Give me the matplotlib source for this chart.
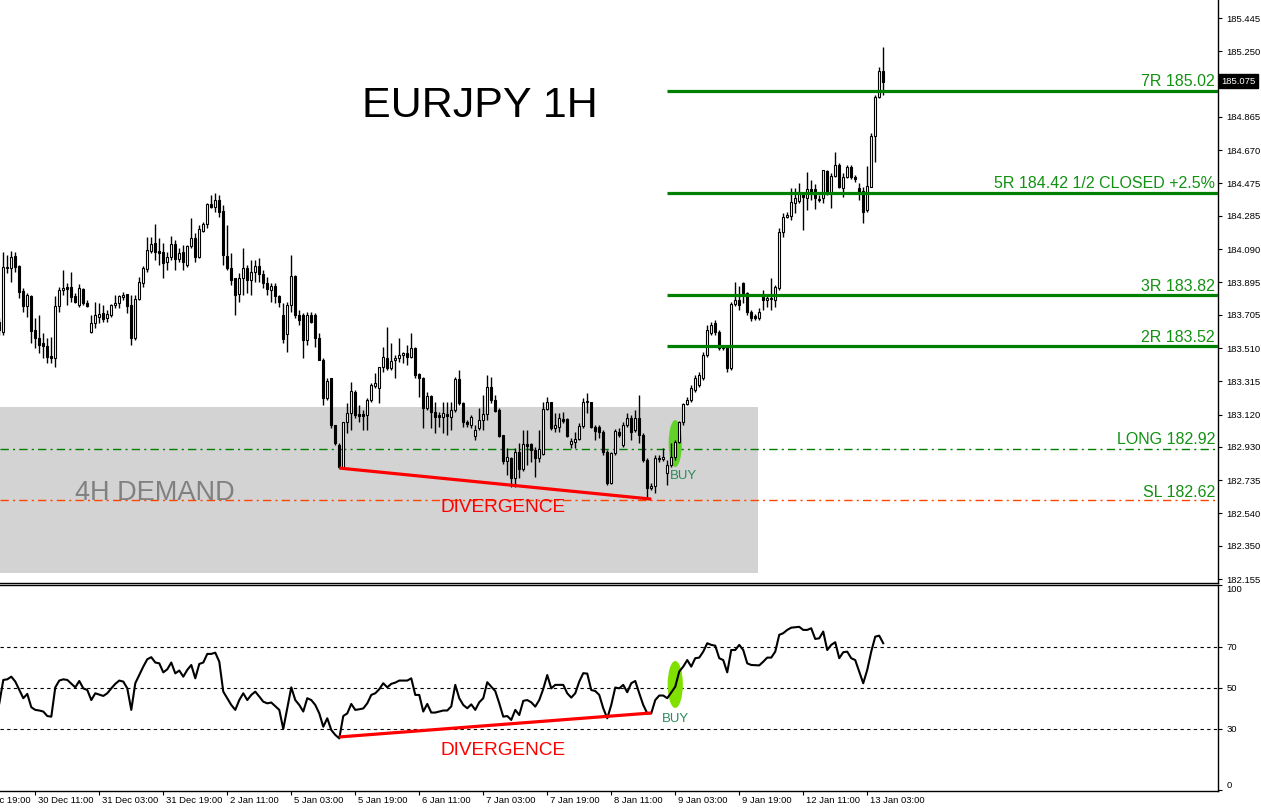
import numpy as np
import matplotlib.pyplot as plt
import matplotlib.transforms as mtransforms
from matplotlib.patches import Rectangle, Ellipse

# EURJPY H1 candles, bar 0 is the half cut one on the left edge
opens = [
    183.662, 183.604, 183.979, 183.979, 184.050, 183.991, 183.844, 183.756, 183.815, 183.616,
    183.569, 183.539, 183.522, 183.463, 183.451, 183.756, 183.850, 183.868, 183.868, 183.815,
    183.762, 183.856, 183.774, 183.604, 183.657, 183.692, 183.715, 183.686, 183.704, 183.762,
    183.774, 183.809, 183.827, 183.762, 183.569, 183.797, 183.891, 183.973, 184.079, 184.126,
    184.079, 184.073, 184.015, 184.044, 184.120, 184.032, 184.073, 183.997, 184.108, 184.155,
    184.044, 184.196, 184.237, 184.354, 184.337, 184.378, 184.314, 184.050, 183.979, 183.921,
    183.827, 183.921, 183.979, 183.909, 183.956, 183.991, 183.944, 183.891, 183.850, 183.874,
    183.815, 183.704, 183.592, 183.762, 183.932, 183.704, 183.704, 183.557, 183.704, 183.704,
    183.569, 183.440, 183.217, 183.334, 183.058, 182.941, 182.812, 183.076, 183.129, 183.252,
    183.123, 183.123, 183.117, 183.205, 183.287, 183.275, 183.399, 183.451, 183.393, 183.440,
    183.451, 183.469, 183.481, 183.457, 183.510, 183.358, 183.334, 183.158, 183.229, 183.135,
    183.117, 183.105, 183.123, 183.105, 183.146, 183.328, 183.187, 183.076, 183.058, 182.994,
    183.041, 183.088, 183.123, 183.281, 183.205, 183.146, 183.000, 182.847, 182.865, 182.748,
    182.900, 182.800, 182.947, 182.947, 182.912, 182.865, 182.888, 183.152, 183.193, 183.041,
    183.047, 183.094, 183.094, 182.947, 182.959, 182.976, 183.052, 183.193, 183.193, 183.047,
    183.047, 183.018, 182.900, 182.718, 182.894, 183.018, 182.941, 183.058, 183.100, 183.029,
    183.100, 183.000, 182.853, 182.689, 182.701, 182.865, 182.859, 182.777, 182.824, 182.871,
    182.959, 183.076, 183.182, 183.205, 183.264, 183.293, 183.334, 183.469, 183.598, 183.657,
    183.604, 183.510, 183.516, 183.393, 183.768, 183.792, 183.891, 183.832, 183.721, 183.698,
    183.686, 183.809, 183.792, 183.797, 183.792, 183.862, 184.190, 184.278, 184.284, 184.360,
    184.372, 184.419, 184.390, 184.443, 184.443, 184.384, 184.390, 184.548, 184.419, 184.519,
    184.583, 184.448, 184.513, 184.572, 184.513, 184.448, 184.431, 184.319, 184.454, 184.753,
    184.982, 185.135]
highs = [
    183.686, 184.073, 184.055, 184.079, 184.073, 183.997, 183.862, 183.832, 183.821, 183.686,
    183.704, 183.598, 183.569, 183.575, 183.815, 183.868, 183.967, 183.891, 183.956, 183.832,
    183.885, 183.862, 183.792, 183.704, 183.780, 183.774, 183.762, 183.733, 183.768, 183.821,
    183.821, 183.838, 183.827, 183.821, 183.821, 183.926, 183.991, 184.161, 184.161, 184.237,
    184.155, 184.126, 184.073, 184.167, 184.143, 184.096, 184.114, 184.114, 184.272, 184.184,
    184.231, 184.249, 184.360, 184.407, 184.419, 184.407, 184.349, 184.231, 184.067, 183.921,
    183.950, 184.096, 183.997, 184.026, 184.026, 184.038, 183.967, 183.926, 183.891, 183.891,
    183.821, 183.774, 183.780, 184.055, 183.938, 183.733, 183.715, 183.721, 183.721, 183.715,
    183.598, 183.451, 183.334, 183.334, 183.058, 182.953, 183.076, 183.187, 183.311, 183.264,
    183.176, 183.146, 183.217, 183.305, 183.363, 183.399, 183.516, 183.633, 183.539, 183.469,
    183.569, 183.487, 183.528, 183.598, 183.516, 183.363, 183.340, 183.252, 183.234, 183.193,
    183.135, 183.193, 183.193, 183.193, 183.340, 183.381, 183.193, 183.088, 183.117, 183.058,
    183.158, 183.234, 183.352, 183.340, 183.234, 183.158, 183.000, 182.923, 182.871, 182.923,
    182.953, 183.029, 183.029, 182.953, 182.929, 183.029, 183.193, 183.223, 183.193, 183.129,
    183.129, 183.135, 183.100, 182.982, 183.018, 183.070, 183.217, 183.246, 183.193, 183.058,
    183.058, 183.029, 182.912, 182.900, 183.035, 183.041, 183.076, 183.129, 183.117, 183.146,
    183.234, 183.012, 182.865, 182.718, 182.882, 182.882, 182.923, 182.853, 182.953, 182.970,
    183.082, 183.187, 183.223, 183.293, 183.352, 183.369, 183.487, 183.645, 183.662, 183.674,
    183.616, 183.528, 183.528, 183.780, 183.897, 183.874, 183.897, 183.838, 183.733, 183.709,
    183.745, 183.850, 183.821, 183.921, 183.880, 184.214, 184.302, 184.308, 184.448, 184.448,
    184.478, 184.425, 184.542, 184.495, 184.472, 184.407, 184.554, 184.554, 184.536, 184.660,
    184.595, 184.536, 184.583, 184.583, 184.525, 184.478, 184.454, 184.577, 184.771, 184.994,
    185.158, 185.275]
lows = [
    183.587, 183.587, 183.950, 183.897, 183.956, 183.803, 183.721, 183.692, 183.539, 183.510,
    183.481, 183.451, 183.422, 183.422, 183.399, 183.721, 183.821, 183.762, 183.780, 183.774,
    183.750, 183.762, 183.750, 183.598, 183.627, 183.657, 183.662, 183.662, 183.692, 183.745,
    183.745, 183.792, 183.715, 183.528, 183.557, 183.792, 183.868, 183.956, 184.067, 184.026,
    183.997, 183.921, 183.967, 184.026, 183.967, 184.015, 183.967, 183.985, 184.096, 184.015,
    184.038, 184.190, 184.214, 184.331, 184.308, 184.278, 183.997, 183.967, 183.880, 183.704,
    183.780, 183.821, 183.832, 183.821, 183.897, 183.897, 183.862, 183.821, 183.780, 183.774,
    183.750, 183.539, 183.487, 183.721, 183.686, 183.645, 183.451, 183.528, 183.657, 183.516,
    183.440, 183.176, 183.205, 183.041, 182.941, 182.806, 182.806, 183.012, 183.029, 183.100,
    183.076, 183.029, 183.029, 183.193, 183.275, 183.187, 183.369, 183.381, 183.381, 183.334,
    183.428, 183.422, 183.410, 183.451, 183.334, 183.223, 183.041, 183.146, 183.041, 183.012,
    183.047, 183.012, 183.000, 183.029, 183.135, 183.176, 183.047, 183.047, 183.041, 182.970,
    183.029, 183.029, 183.088, 183.187, 183.135, 182.988, 182.830, 182.765, 182.695, 182.695,
    182.748, 182.789, 182.824, 182.841, 182.753, 182.841, 182.882, 183.146, 183.029, 183.018,
    183.018, 183.070, 182.988, 182.923, 182.923, 182.970, 183.041, 183.129, 183.041, 182.970,
    182.982, 182.882, 182.706, 182.712, 182.882, 182.988, 182.929, 183.047, 182.970, 183.018,
    182.953, 182.841, 182.624, 182.677, 182.660, 182.841, 182.847, 182.706, 182.812, 182.853,
    182.953, 183.058, 183.176, 183.193, 183.252, 183.281, 183.322, 183.457, 183.587, 183.587,
    183.498, 183.498, 183.369, 183.381, 183.756, 183.733, 183.774, 183.704, 183.668, 183.674,
    183.674, 183.733, 183.750, 183.733, 183.750, 183.850, 184.161, 184.272, 184.261, 184.302,
    184.360, 184.202, 184.319, 184.378, 184.325, 184.366, 184.360, 184.407, 184.331, 184.513,
    184.448, 184.396, 184.507, 184.501, 184.484, 184.378, 184.243, 184.308, 184.454, 184.601,
    184.976, 184.994]
closes = [
    183.616, 183.985, 183.985, 184.044, 183.985, 183.838, 183.756, 183.821, 183.610, 183.569,
    183.528, 183.522, 183.457, 183.451, 183.756, 183.850, 183.862, 183.856, 183.809, 183.780,
    183.862, 183.774, 183.756, 183.657, 183.704, 183.709, 183.680, 183.709, 183.762, 183.774,
    183.815, 183.821, 183.756, 183.569, 183.797, 183.897, 183.979, 184.085, 184.120, 184.073,
    184.067, 184.009, 184.044, 184.120, 184.032, 184.067, 184.015, 184.108, 184.155, 184.044,
    184.208, 184.237, 184.354, 184.337, 184.378, 184.308, 184.055, 183.979, 183.909, 183.821,
    183.921, 183.979, 183.909, 183.956, 183.991, 183.944, 183.891, 183.856, 183.874, 183.815,
    183.780, 183.563, 183.762, 183.932, 183.704, 183.674, 183.557, 183.704, 183.662, 183.569,
    183.440, 183.217, 183.317, 183.058, 182.953, 182.812, 183.076, 183.129, 183.258, 183.117,
    183.111, 183.111, 183.205, 183.293, 183.305, 183.399, 183.457, 183.393, 183.434, 183.451,
    183.469, 183.481, 183.457, 183.510, 183.352, 183.334, 183.158, 183.229, 183.135, 183.105,
    183.105, 183.129, 183.111, 183.146, 183.328, 183.187, 183.076, 183.064, 183.105, 183.029,
    183.088, 183.123, 183.281, 183.205, 183.141, 182.994, 182.847, 182.871, 182.748, 182.900,
    182.800, 182.947, 182.935, 182.912, 182.865, 182.918, 183.152, 183.193, 183.041, 183.058,
    183.100, 183.082, 182.994, 182.965, 182.976, 183.052, 183.193, 183.199, 183.047, 183.023,
    183.018, 182.900, 182.718, 182.894, 183.023, 183.000, 183.058, 183.100, 183.018, 183.100,
    183.000, 182.853, 182.689, 182.701, 182.865, 182.859, 182.871, 182.824, 182.871, 182.959,
    183.076, 183.182, 183.205, 183.275, 183.334, 183.352, 183.469, 183.616, 183.645, 183.604,
    183.510, 183.516, 183.393, 183.768, 183.792, 183.762, 183.832, 183.721, 183.686, 183.686,
    183.721, 183.792, 183.803, 183.803, 183.868, 184.190, 184.278, 184.290, 184.366, 184.390,
    184.425, 184.396, 184.443, 184.425, 184.390, 184.378, 184.554, 184.419, 184.519, 184.583,
    184.454, 184.513, 184.572, 184.513, 184.501, 184.425, 184.308, 184.460, 184.753, 184.982,
    185.135, 185.070]

# RSI line (bar number, value)
rsi_bar = [0, 1, 2, 3, 4, 5, 6, 7, 8, 9, 10, 11, 12, 13, 14, 15, 16, 17, 19, 20,
           21, 22, 23, 24, 26, 27, 28, 29, 30, 31, 32, 33, 34, 35, 36, 37, 38, 39, 40, 41,
           42, 43, 44, 45, 46, 47, 48, 49, 50, 51, 52, 53, 54, 55, 56, 57, 58, 59, 60, 61,
           62, 63, 64, 65, 66, 67, 68, 70, 71, 72, 73, 74, 75, 76, 77, 78, 79, 80, 81, 82,
           83, 84, 85, 86, 87, 88, 89, 90, 91, 92, 93, 94, 95, 96, 97, 98, 99, 100, 102, 103,
           104, 105, 106, 107, 108, 109, 111, 112, 113, 114, 115, 116, 117, 118, 119, 120, 121, 122, 123, 124,
           125, 126, 127, 128, 129, 130, 131, 132, 133, 134, 135, 136, 137, 138, 139, 141, 142, 143, 144, 145,
           146, 147, 148, 149, 150, 151, 152, 153, 154, 155, 156, 157, 158, 159, 160, 161, 162, 163, 164, 165,
           166, 167, 169, 170, 171, 172, 173, 174, 175, 176, 177, 178, 179, 180, 181, 182, 183, 184, 185, 186,
           187, 188, 190, 191, 192, 193, 194, 195, 196, 197, 198, 200, 201, 202, 203, 204, 205, 206, 207, 208,
           209, 210, 211, 212, 213, 214, 216, 217, 218, 219, 220, 221]
rsi_val = [42.5, 53.9, 54.2, 55.5, 53.1, 49.0, 45.0, 47.1, 40.6, 39.3, 39.0, 38.5, 36.3, 36.0, 50.3, 53.6, 54.2, 53.9, 50.3, 53.4,
           49.8, 49.0, 44.1, 47.4, 46.1, 47.4, 49.8, 52.0, 53.6, 53.1, 49.8, 39.3, 52.3, 56.3, 60.4, 64.0, 65.0, 62.4, 62.0, 57.6,
           59.1, 62.4, 57.1, 58.5, 55.5, 58.8, 61.2, 54.7, 61.7, 62.4, 66.6, 66.6, 67.2, 62.8, 48.2, 45.0, 41.7, 39.3, 44.1, 47.4,
           44.1, 46.6, 48.2, 45.8, 43.3, 42.5, 42.9, 39.3, 30.0, 40.1, 50.3, 44.1, 41.7, 38.5, 45.0, 44.1, 41.7, 37.6, 31.1, 35.2,
           29.5, 27.1, 25.4, 36.3, 37.6, 42.2, 39.3, 39.6, 40.0, 42.5, 46.6, 47.4, 49.4, 52.3, 50.3, 52.0, 52.6, 53.6, 53.6, 54.7,
           46.6, 46.6, 38.5, 42.2, 38.0, 38.0, 39.0, 39.0, 41.0, 51.5, 45.0, 41.7, 40.1, 42.0, 39.3, 43.0, 45.0, 52.8, 50.6, 48.5,
           42.5, 36.0, 36.3, 34.4, 39.3, 36.8, 43.7, 44.1, 43.0, 40.9, 44.1, 49.5, 56.3, 49.8, 51.5, 51.5, 47.4, 45.3, 47.4, 53.1,
           57.2, 57.0, 49.0, 48.5, 46.6, 40.1, 35.2, 41.7, 50.2, 49.8, 51.5, 47.9, 52.3, 53.4, 47.4, 41.7, 37.6, 37.6, 44.1, 46.3,
           46.3, 45.0, 50.6, 58.0, 60.4, 63.6, 60.4, 64.5, 64.8, 67.7, 71.8, 71.0, 70.6, 64.5, 63.6, 57.6, 68.5, 68.5, 71.0, 68.5,
           62.0, 61.2, 61.0, 62.8, 64.8, 64.8, 67.7, 75.9, 76.7, 78.3, 79.4, 79.8, 78.3, 78.3, 79.1, 73.9, 74.2, 77.5, 68.5, 71.0,
           72.3, 64.5, 67.4, 67.7, 64.5, 63.6, 52.3, 58.8, 67.7, 75.0, 75.5, 71.8]

price_ticks = [185.445, 185.250, 184.865, 184.670, 184.475, 184.285, 184.090, 183.895, 183.705,
               183.510, 183.315, 183.120, 182.930, 182.735, 182.540, 182.350, 182.155]
rsi_ticks = [100, 70, 50, 30, 0]
time_labels = ['29 Dec 19:00', '30 Dec 11:00', '31 Dec 03:00', '31 Dec 19:00', '2 Jan 11:00',
               '5 Jan 03:00', '5 Jan 19:00', '6 Jan 11:00', '7 Jan 03:00', '7 Jan 19:00',
               '8 Jan 11:00', '9 Jan 03:00', '9 Jan 19:00', '12 Jan 11:00', '13 Jan 03:00']

levels = [185.02, 184.42, 183.82, 183.52]
level_names = ['7R 185.02', '5R 184.42 1/2 CLOSED +2.5%', '3R 183.82', '2R 183.52']
long_price = 182.92
sl_price = 182.62
zone_top, zone_bot = 183.163, 182.19
last_price = 185.075
div_bars = [85, 163]
div_price = [182.806, 182.624]
div_rsi = [26.1, 37.8]
buy_bar = 169

W, H = 1261, 809
fig = plt.figure(figsize=(W / 100, H / 100), dpi=100)
ax = fig.add_axes([0, 1 - 583 / H, 1218 / W, 583 / H])
ax2 = fig.add_axes([0, 1 - 791 / H, 1218 / W, 206 / H])
AR = 'Liberation Sans'
TICK_FS = 6.8

# 4 px per bar
xlim = (0.175, 304.7)
for a in (ax, ax2):
    a.set_xlim(*xlim)
    a.set_facecolor('white')
ax.set_ylim(182.132, 185.551)
ax2.set_ylim(-0.25, 100.2)

o, h, l, c = map(np.array, (opens, highs, lows, closes))
x = np.arange(len(c))
up = c >= o

ax.add_patch(Rectangle((-2, zone_bot), 189.7 + 2, zone_top - zone_bot, color='#d3d3d3', lw=0, zorder=0))
ax.axhline(long_price, color='#008000', lw=1, ls=(0, (6, 3, 1.5, 3)), zorder=1)
ax.axhline(sl_price, color='#ff4500', lw=1, ls=(0, (6, 3, 1.5, 3)), zorder=1)
ax.add_patch(Ellipse((buy_bar, 182.950), 3.3, 0.276, color='#62d22a', lw=0, zorder=2))

ax.vlines(x, l, h, color='black', lw=1, zorder=3)
ax.bar(x, np.maximum(np.abs(c - o), 0.001), bottom=np.minimum(o, c), width=0.55,
       color=np.where(up, 'white', 'black'), edgecolor='black', linewidth=0.8, zorder=4)

ax.hlines(levels, 166.9, xlim[1], color='#008000', lw=2.3, zorder=5)
ax.plot(div_bars, div_price, color='#ff0000', lw=2.3, zorder=5, solid_capstyle='butt')

lab_col = '#129112'
for lv, name in zip(levels, level_names):
    ax.annotate(name, xy=(1, lv), xycoords=('axes fraction', 'data'), xytext=(-2.2, 3.2),
                textcoords='offset points', ha='right', va='baseline', fontsize=11.5,
                family=AR, color=lab_col, zorder=6)
ax.annotate('LONG 182.92', xy=(1, long_price), xycoords=('axes fraction', 'data'), xytext=(-2.2, 3.0),
            textcoords='offset points', ha='right', va='baseline', fontsize=11.5, family=AR, color=lab_col)
ax.annotate('SL 182.62', xy=(1, sl_price), xycoords=('axes fraction', 'data'), xytext=(-2.2, 2.0),
            textcoords='offset points', ha='right', va='baseline', fontsize=11.5, family=AR, color=lab_col)


def fx(px):
    return px / 1218


def fy(py):
    return 1 - py / 583


def fy2(py):
    return (791 - py) / 206


ax.text(fx(362), fy(117), 'EURJPY 1H', transform=ax.transAxes, fontsize=31, family=AR,
        color='black', va='baseline', ha='left')
ax.text(fx(75), fy(500), '4H DEMAND', transform=ax.transAxes, fontsize=19.5, family=AR,
        color='#808080', va='baseline', ha='left')
ax.text(fx(440), fy(512), 'DIVERGENCE', transform=ax.transAxes, fontsize=13.7, family=AR,
        color='#ff0000', va='baseline', ha='left')
ax.text(fx(670), fy(479), 'BUY', transform=ax.transAxes, fontsize=9.5, family=AR,
        color='#2a8a5a', va='baseline', ha='left', zorder=6)

# price axis on the right
ax.yaxis.tick_right()
ax.set_yticks(price_ticks)
ax.set_yticklabels(['%.3f' % v for v in price_ticks], family=AR, fontsize=TICK_FS)
ax.tick_params(axis='y', length=3, width=0.8, pad=3, direction='out')
ax.set_xticks([])
for s in ('left', 'top'):
    ax.spines[s].set_visible(False)
for s in ('right', 'bottom'):
    ax.spines[s].set_color('black')
    ax.spines[s].set_linewidth(1)

trans_y = mtransforms.blended_transform_factory(ax.transAxes, ax.transData)
ax.text(1 + 3 / 1218, last_price, '%.3f' % last_price, transform=trans_y, color='white',
        fontsize=TICK_FS, family=AR, va='center', ha='left',
        bbox=dict(facecolor='black', edgecolor='black', pad=1.6))

# RSI window
for lv in (70, 50, 30):
    ax2.axhline(lv, color='black', lw=0.8, ls=(0, (3, 3)), zorder=1)
ax2.add_patch(Ellipse((buy_bar, 51.7), 3.8, 22.9, color='#80e000', lw=0, zorder=2))
ax2.plot(rsi_bar, rsi_val, color='black', lw=1.5, zorder=3)
ax2.plot(div_bars, div_rsi, color='#ff0000', lw=2.3, zorder=4, solid_capstyle='butt')
ax2.text(fx(440), fy2(755), 'DIVERGENCE', transform=ax2.transAxes, fontsize=13.7, family=AR,
         color='#ff0000', va='baseline', ha='left')
ax2.text(fx(662), fy2(722), 'BUY', transform=ax2.transAxes, fontsize=9.5, family=AR,
         color='#2a8a5a', va='baseline', ha='left')

ax2.yaxis.tick_right()
ax2.set_yticks(rsi_ticks)
ax2.set_yticklabels([str(v) for v in rsi_ticks], family=AR, fontsize=TICK_FS)
ax2.tick_params(axis='y', length=3, width=0.8, pad=3, direction='out')
tl = ax2.get_yticklabels()
tl[0].set_va('top')
tl[-1].set_va('bottom')
ax2.spines['left'].set_visible(False)
for s in ('right', 'bottom', 'top'):
    ax2.spines[s].set_color('black')
    ax2.spines[s].set_linewidth(1)

# time axis, one label every 16 bars, text starts right of the tick
# (the first one is cut by the left edge, as in the terminal)
time_bar = np.arange(len(time_labels)) * 16 - 7
ax2.set_xticks(time_bar[1:])
ax2.tick_params(axis='x', length=3, width=0.8, labelbottom=False, direction='out')
trans_x = mtransforms.blended_transform_factory(ax2.transData, ax2.transAxes)
for b, lab in zip(time_bar, time_labels):
    ax2.text(b + 0.6, -0.022, lab, transform=trans_x, ha='left', va='top', fontsize=TICK_FS, family=AR)

fig.savefig('out.png', dpi=100)
